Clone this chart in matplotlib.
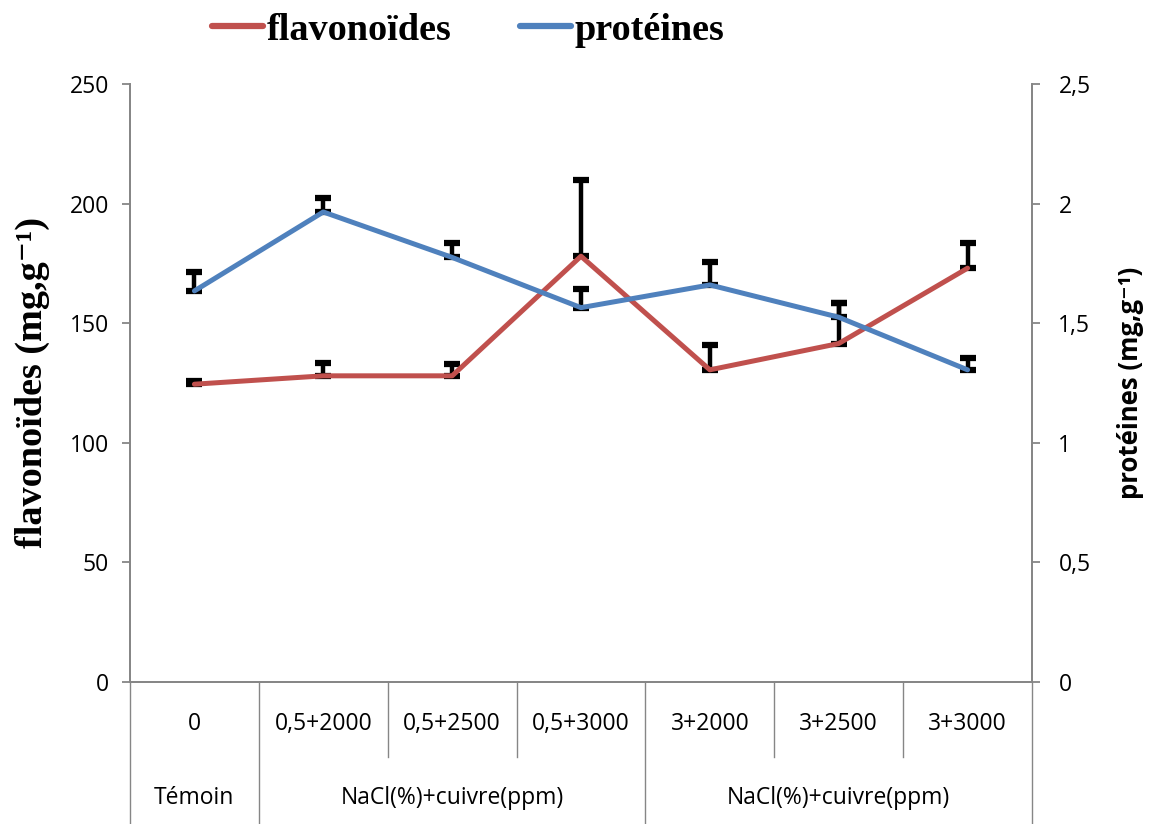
import matplotlib
matplotlib.use("Agg")
import matplotlib.pyplot as plt
from matplotlib.lines import Line2D
import numpy as np

# Treatments (first row) and treatment groups (second row)
categories = ["0", "0,5+2000", "0,5+2500", "0,5+3000", "3+2000", "3+2500", "3+3000"]
groups = ["Témoin", "NaCl(%)+cuivre(ppm)", "NaCl(%)+cuivre(ppm)"]
group_spans = [(0, 1), (1, 4), (4, 7)]

# Flavonoid content (mg/g) and upper error
flavonoides = [124.5, 128, 128, 178, 130.5, 141.5, 173]
flavonoides_err = [1.5, 5.5, 5, 32, 10.5, 17, 10.5]

# Protein content (mg/g) and upper error
proteines = [1.635, 1.965, 1.775, 1.565, 1.66, 1.525, 1.305]
proteines_err = [0.08, 0.06, 0.06, 0.08, 0.095, 0.06, 0.05]

left_ticks = [0, 50, 100, 150, 200, 250]
right_ticks = [0, 0.5, 1, 1.5, 2, 2.5]
right_labels = ["0", "0,5", "1", "1,5", "2", "2,5"]

RED = "#C0504D"
BLUE = "#4F81BD"
GREY = "#868686"

W, H = 1160, 824
fig = plt.figure(figsize=(W / 100, H / 100), dpi=100)
ax_l, ax_b, ax_w, ax_h = 130 / W, (H - 682) / H, 902 / W, 598 / H
ax = fig.add_axes([ax_l, ax_b, ax_w, ax_h])
ax2 = ax.twinx()

x = np.arange(len(categories))
sans = ["Open Sans", "DejaVu Sans"]
serif = ["Liberation Serif", "DejaVu Serif"]
TICK_FS = 16.5

# flavonoid series on the left axis
ax.errorbar(x, flavonoides, yerr=[np.zeros(len(x)), flavonoides_err], fmt="none",
            ecolor="black", elinewidth=3.2, capsize=6, capthick=4.5, zorder=2)
ax.plot(x, flavonoides, color=RED, lw=3.6, solid_capstyle="round", zorder=3)

# protein series on the right axis
ax2.errorbar(x, proteines, yerr=[np.zeros(len(x)), proteines_err], fmt="none",
             ecolor="black", elinewidth=3.2, capsize=6, capthick=4.5, zorder=2)
ax2.plot(x, proteines, color=BLUE, lw=3.6, solid_capstyle="round", zorder=3)

ax.set_xlim(-0.5, len(x) - 0.5)
ax.set_ylim(0, 250)
ax2.set_ylim(0, 2.5)

ax.set_yticks(left_ticks)
ax.set_yticklabels([str(t) for t in left_ticks], fontfamily=sans, fontsize=TICK_FS)
ax2.set_yticks(right_ticks)
ax2.set_yticklabels(right_labels, fontfamily=sans, fontsize=TICK_FS)
ax.set_xticks([])

for a in (ax, ax2):
    for s in a.spines.values():
        s.set_color(GREY)
        s.set_linewidth(1.3)
    a.spines["top"].set_visible(False)
ax.tick_params(axis="y", length=6, width=1.3, color=GREY, pad=9)
ax2.tick_params(axis="y", length=6, width=1.3, color=GREY, pad=13)

ax.set_ylabel("flavonoïdes (mg,g⁻¹)", fontfamily=serif, fontweight="bold",
              fontsize=27.5, labelpad=14)
ax2.set_ylabel("protéines (mg,g⁻¹)", fontfamily=sans, fontweight="bold",
               fontsize=18.5, labelpad=19)

# two-level category axis below the plot
trans = ax.get_xaxis_transform()
row1_y = -(724 - 682) / 598
row2_y = -(798 - 682) / 598
short_bottom = -(757 - 682) / 598
full_bottom = -(824 - 682) / 598
for i, lab in enumerate(categories):
    ax.text(i, row1_y, lab, transform=trans, ha="center", va="center",
            fontfamily=sans, fontsize=TICK_FS)
for lab, (a, b) in zip(groups, group_spans):
    ax.text((a + b - 1) / 2, row2_y, lab, transform=trans, ha="center", va="center",
            fontfamily=sans, fontsize=TICK_FS)

boundaries = {a for a, b in group_spans} | {b for a, b in group_spans}
for k in range(len(categories) + 1):
    bottom = full_bottom if k in boundaries else short_bottom
    ax.add_line(Line2D([k - 0.5, k - 0.5], [0, bottom], transform=trans,
                       color=GREY, lw=1.0, clip_on=False))

# legend above the plot
handles = [Line2D([], [], color=RED, lw=4.5, solid_capstyle="round"),
           Line2D([], [], color=BLUE, lw=4.5, solid_capstyle="round")]
fig.legend(handles, ["flavonoïdes", "protéines"], loc="center",
           bbox_to_anchor=(468 / W, 1 - 30 / H), ncol=2, frameon=False,
           prop={"family": serif, "weight": "bold", "size": 27.5},
           handlelength=1.35, handletextpad=0.08, columnspacing=1.8)

fig.savefig("out.png", dpi=100)
